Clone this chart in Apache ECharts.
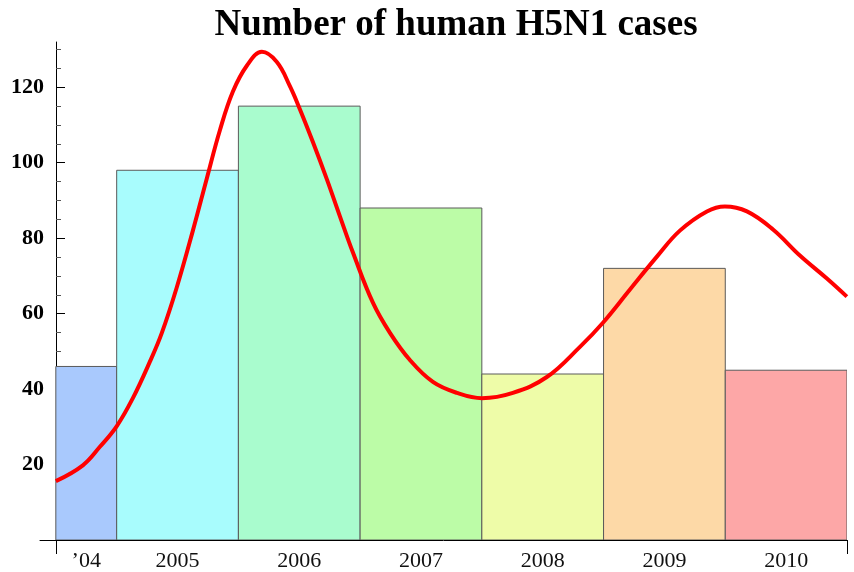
<!DOCTYPE html>
<html>
<head>
<meta charset="utf-8">
<script src="https://cdn.jsdelivr.net/npm/echarts@6/dist/echarts.min.js"></script>
<style>
  html, body { margin: 0; padding: 0; background: #fff; }
  #main { width: 854px; height: 572px; }
</style>
</head>
<body>
<div id="main"></div>
<script>
// yearly case counts (bars), first year only half shown
const barYears = [2004, 2005, 2006, 2007, 2008, 2009, 2010];
const barCases = [46, 98, 115, 88, 44, 72, 45];
const barColors = ['#a9c9fd', '#a8fcfd', '#a9fcce', '#bcfca7', '#eefca8', '#fdd9a7', '#fda7a7'];

// x axis labels and where they sit
const tickLabels = ['\u201904', '2005', '2006', '2007', '2008', '2009', '2010'];
const labelPos = [2004.25, 2005, 2006, 2007, 2008, 2009, 2010];

// smooth trend curve
const curveX = [2004.000, 2004.222, 2004.362, 2004.501, 2004.633, 2004.772, 2004.871, 2004.994, 2005.126, 2005.241,
  2005.348, 2005.454, 2005.569, 2005.693, 2005.816, 2005.923, 2006.005, 2006.112, 2006.227, 2006.334,
  2006.441, 2006.605, 2006.745, 2006.909, 2007.098, 2007.295, 2007.501, 2007.755, 2008.034, 2008.306,
  2008.495, 2008.717, 2008.938, 2009.127, 2009.349, 2009.497, 2009.678, 2009.892, 2010.113, 2010.335,
  2010.499];
const curveY = [15.6, 19.8, 24.7, 30.2, 37.6, 47.2, 54.9, 67.0, 82.0, 95.9,
  108.6, 118.8, 125.7, 129.4, 126.7, 120.3, 114.2, 105.5, 95.6, 85.8,
  76.2, 62.9, 54.9, 47.7, 41.9, 39.0, 37.6, 39.0, 43.2, 51.2,
  57.6, 66.4, 75.1, 82.0, 87.1, 88.4, 87.1, 82.3, 75.4, 69.3,
  64.5];

const yMajor = [20, 40, 60, 80, 100, 120];
const yMinor = [5, 10, 15, 25, 30, 35, 45, 50, 55, 65, 70, 75, 85, 90, 95, 105, 110, 115, 125, 130];

const xStart = 2004, xEnd = 2010.5;
const xMin = 2003.87;

const barData = barYears.map((y, i) => [Math.max(y - 0.5, xStart), y + 0.5, barCases[i], i]);
const curveData = curveX.map((x, i) => [x, curveY[i]]);

const chart = echarts.init(document.getElementById('main'));
chart.setOption({
  animation: false,
  title: {
    text: 'Number of human H5N1 cases',
    left: 451,
    textAlign: 'center',
    top: 2,
    textStyle: { fontFamily: 'Liberation Serif', fontWeight: 'bold', fontSize: 37, color: '#000' }
  },
  grid: { left: 40, right: 7, top: 42, bottom: 32 },
  xAxis: {
    type: 'value',
    min: xMin,
    max: xEnd,
    splitLine: { show: false },
    axisLine: { lineStyle: { color: '#000', width: 1 } },
    axisTick: { customValues: [xStart, xEnd], length: 14, lineStyle: { color: '#000' } },
    axisLabel: {
      customValues: labelPos,
      margin: 10,
      fontFamily: 'Liberation Serif', fontSize: 22, color: '#111',
      formatter: v => tickLabels[labelPos.indexOf(v)]
    }
  },
  yAxis: [{
    type: 'value',
    min: 0, max: 132,
    position: 'left',
    offset: -16,
    splitLine: { show: false },
    axisLine: { show: true, lineStyle: { color: '#000', width: 1 } },
    axisTick: { customValues: yMajor, inside: true, length: 9, lineStyle: { color: '#000' } },
    axisLabel: {
      customValues: yMajor,
      margin: 12,
      fontFamily: 'Liberation Serif', fontWeight: 'bold', fontSize: 22, color: '#000'
    }
  }, {
    type: 'value',
    min: 0, max: 132,
    position: 'left',
    offset: -16,
    splitLine: { show: false },
    axisLine: { show: false },
    axisTick: { customValues: yMinor, inside: true, length: 5, lineStyle: { color: '#555' } },
    axisLabel: { show: false }
  }],
  series: [{
    type: 'custom',
    clip: true,
    renderItem: (params, api) => {
      const p0 = api.coord([api.value(0), api.value(2)]);
      const p1 = api.coord([api.value(1), 0]);
      return {
        type: 'rect',
        shape: { x: p0[0], y: p0[1], width: p1[0] - p0[0], height: p1[1] - p0[1] },
        style: { fill: barColors[api.value(3)], stroke: '#5a5a5a', lineWidth: 1 }
      };
    },
    encode: { x: [0, 1], y: 2 },
    data: barData
  }, {
    type: 'line',
    data: curveData,
    smooth: 0.4,
    showSymbol: false,
    clip: true,
    z: 5,
    lineStyle: { color: '#ff0000', width: 4 }
  }]
});
</script>
</body>
</html>
